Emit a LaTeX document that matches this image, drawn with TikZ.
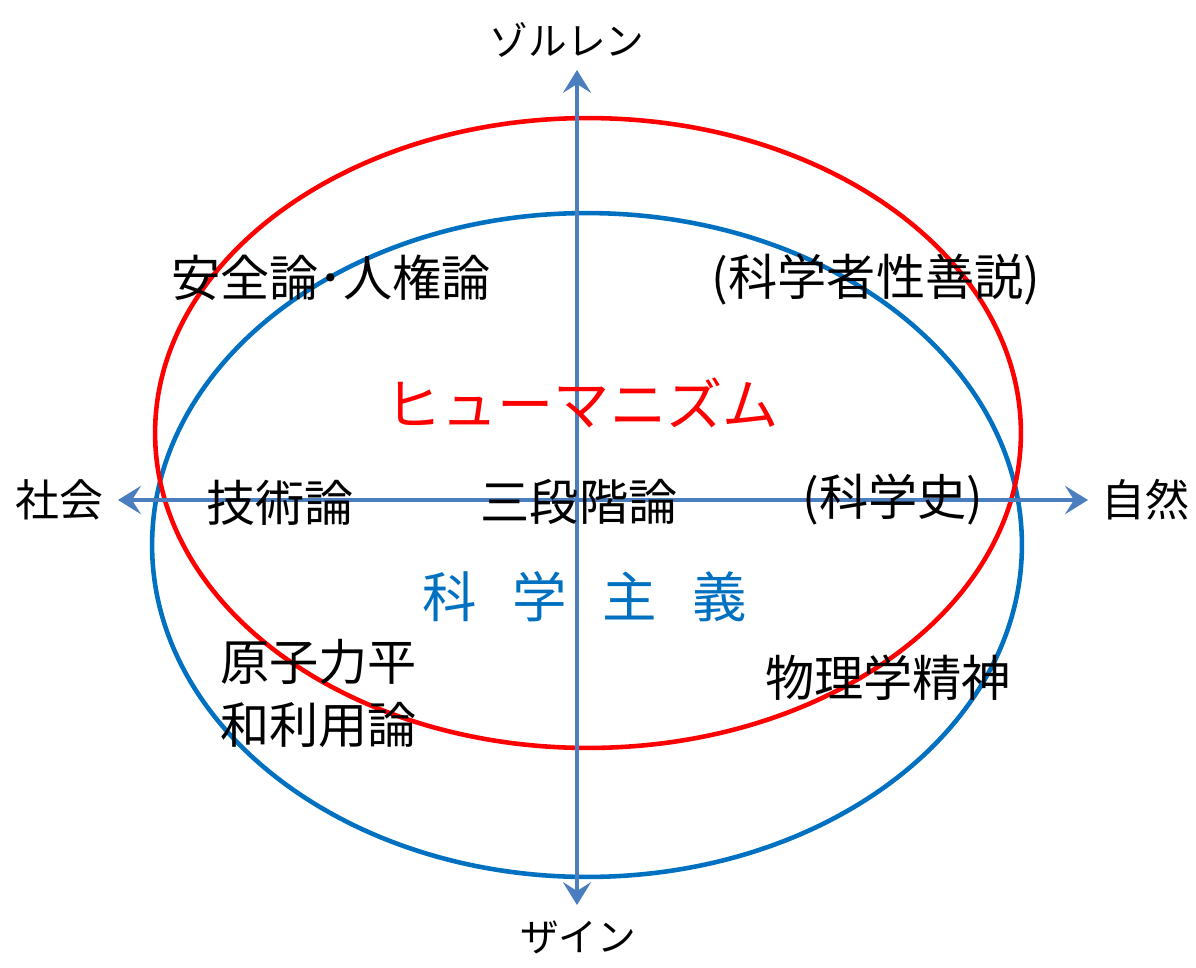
\documentclass[tikz,border=0pt]{standalone}
\usepackage{fontspec}
\setmainfont{Noto Sans CJK JP}
\usetikzlibrary{arrows.meta}
\definecolor{axisblue}{RGB}{74,126,190}
\definecolor{ringblue}{RGB}{0,112,192}
\definecolor{ringred}{RGB}{255,0,0}

\begin{document}
\begin{tikzpicture}[x=0.02cm, y=-0.02cm, every node/.style={inner sep=0pt, font=\fontsize{28}{32}\selectfont},
  axis/.style={draw=axisblue, line width=2.2pt, -{Stealth[length=13pt, width=16pt, inset=5pt]}},
  ring/.style={line width=2.6pt},
  pole/.style={font=\fontsize{25}{30}\selectfont}]
\useasboundingbox (0,0) rectangle (1196,967);

% two rings
\draw[ring, ringblue] (587,545) ellipse [x radius=8.7cm, y radius=6.64cm];
\draw[ring, ringred] (588,433) ellipse [x radius=8.66cm, y radius=6.3cm];

% axes
\coordinate (o) at (577,500);
\coordinate (top) at (577,70);
\coordinate (bottom) at (577,905);
\coordinate (left) at (118,500);
\coordinate (right) at (1088,500);
\draw[axis] (o) -- (top);
\draw[axis] (o) -- (bottom);
\draw[axis] (o) -- (left);
\draw[axis] (o) -- (right);

\node[pole, font=\fontsize{22}{26}\selectfont] (sollen) at (567,40) {ゾルレン};
\node[pole, font=\fontsize{22}{26}\selectfont] (sein) at (578,937) {ザイン};
\node[pole] (shakai) at (59,500) {社会};
\node[pole] (shizen) at (1145,500) {自然};

\node (anzen) at (331,278) {安全論･人権論};
\node (seizen) at (876,280) {(科学者性善説)};
\node[text=ringred, font=\fontsize{32}{36}\selectfont] (human) at (582,403) {ヒューマニズム};
\node (gijutsu) at (280,503) {技術論};
\node (sandan) at (579,502) {三段階論};
\node (kagakushi) at (893,500) {(科学史)};
\node[text=ringblue, font=\fontsize{31}{36}\selectfont] (kagaku) at (585,597) {科\hspace{0.65em}学\hspace{0.65em}主\hspace{0.65em}義};
\node[anchor=west] (genshi) at (220,662) {原子力平};
\node[anchor=west] (heiwa) at (220,725) {和利用論};
\node (butsuri) at (888,678) {物理学精神};

\end{tikzpicture}
\end{document}
